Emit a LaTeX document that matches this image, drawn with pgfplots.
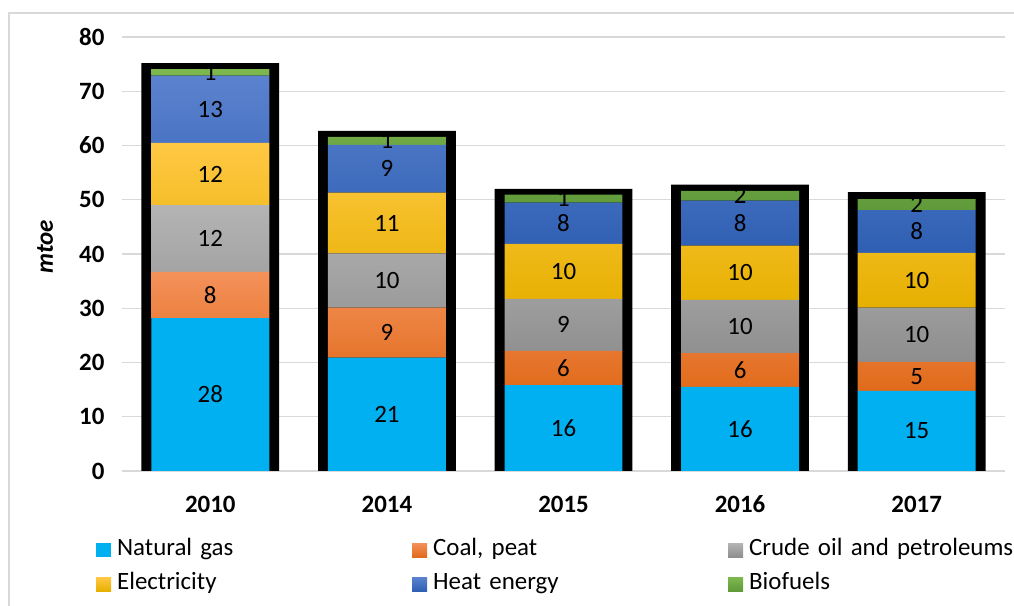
\documentclass[border=0pt]{standalone}
\usepackage{pgfplots}
\usepackage{pgfplotstable}
\pgfplotsset{compat=1.18}
\usepackage{fontspec}
\setmainfont{Carlito}

\definecolor{gasc}{HTML}{00B0F0}
\definecolor{coalT}{HTML}{F4915A}
\definecolor{coalM}{HTML}{ED7D31}
\definecolor{coalB}{HTML}{E06A1A}
\definecolor{crudeT}{HTML}{B4B4B4}
\definecolor{crudeM}{HTML}{A5A5A5}
\definecolor{crudeB}{HTML}{8E8E8E}
\definecolor{elecT}{HTML}{FFC844}
\definecolor{elecM}{HTML}{FFC000}
\definecolor{elecB}{HTML}{E6B000}
\definecolor{heatT}{HTML}{5B82CE}
\definecolor{heatM}{HTML}{4472C4}
\definecolor{heatB}{HTML}{2F5FB3}
\definecolor{bioT}{HTML}{7DB84F}
\definecolor{bioM}{HTML}{70AD47}
\definecolor{bioB}{HTML}{609A3A}
\definecolor{gridc}{HTML}{D9D9D9}

\pgfplotstableread{
x gas coal crude elec heat bio total lgas lcoal lcrude lelec lheat lbio
0 28.2 8.5 12.3 11.5 12.4 1.2 75.2 28 8 12 12 13 1
1 20.9 9.2 10.0 11.2 8.8 1.5 62.7 21 9 10 11 9 1
2 15.85 6.3 9.6 10.1 7.6 1.5 52.0 16 6 9 10 8 1
3 15.5 6.25 9.8 10.0 8.3 1.8 52.8 16 6 10 10 8 2
4 14.75 5.35 10.0 10.1 7.9 2.0 51.4 15 5 10 10 8 2
}\datatable

\pgfplotsset{
  base/.style={
    at={(122bp,135bp)}, anchor=south west,
    scale only axis, width=883bp, height=434bp,
    xmin=-0.5, xmax=4.5, ymin=0, ymax=80,
    enlargelimits=false,
  },
  leg/.style={legend image code/.code={\fill[##1] (0bp,-7bp) rectangle (15bp,7bp);}},
}

\begin{document}
\begin{tikzpicture}
\useasboundingbox (0,0) rectangle (1014bp,606bp);
\draw[draw=gridc, line width=1.2bp] (9bp,-20bp) rectangle (1030bp,593bp);

\begin{axis}[base,
  ybar, bar width=0.78,
  ytick={0,10,...,80},
  xtick={0,1,2,3,4}, xticklabels={2010,2014,2015,2016,2017},
  ymajorgrids, major grid style={draw=gridc, line width=1.3bp},
  axis line style={draw=none},
  tick style={draw=none},
  ticklabel style={font=\fontsize{25}{30}\selectfont\bfseries},
  /pgf/number format/assume math mode=true,
  yticklabel style={xshift=-14bp},
  xticklabel style={yshift=-17bp},
  ylabel={mtoe},
  every axis y label/.style={at={(axis description cs:-0.087,0.517)}, rotate=90, anchor=center, font=\fontsize{25}{30}\selectfont\bfseries\itshape},
]
\addplot[fill=black, draw=none] table[x=x, y=total] {\datatable};
\end{axis}

\begin{axis}[base,
  ybar stacked, bar width=0.668,
  hide axis,
  point meta=explicit symbolic,
  nodes near coords,
  every node near coord/.append style={anchor=center, text=black,
     font=\fontsize{25}{30}\selectfont},
  legend columns=3,
  legend style={at={(axis description cs:-0.0295,-0.2217)}, anchor=west,
    draw=none, fill=none, inner sep=0pt, row sep=11bp,
    font=\fontsize{25}{30}\selectfont,
    nodes={text width=295bp, align=left, inner sep=0pt, text height=17bp, text depth=6bp},
    /tikz/every odd column/.append style={column sep=6bp},
    /tikz/every even column/.append style={column sep=0bp}},
]
\addplot[fill=gasc, draw=none, leg] table[x=x, y=gas, meta=lgas] {\datatable};
\addlegendentry{Natural gas}
\addplot[top color=coalT, middle color=coalM, bottom color=coalB, draw=none, leg] table[x=x, y=coal, meta=lcoal] {\datatable};
\addlegendentry{Coal, peat}
\addplot[top color=crudeT, middle color=crudeM, bottom color=crudeB, draw=none, leg] table[x=x, y=crude, meta=lcrude] {\datatable};
\addlegendentry{Crude oil and petroleums}
\addplot[top color=elecT, middle color=elecM, bottom color=elecB, draw=none, leg] table[x=x, y=elec, meta=lelec] {\datatable};
\addlegendentry{Electricity}
\addplot[top color=heatT, middle color=heatM, bottom color=heatB, draw=none, leg] table[x=x, y=heat, meta=lheat] {\datatable};
\addlegendentry{Heat energy}
\addplot[top color=bioT, middle color=bioM, bottom color=bioB, draw=none, leg] table[x=x, y=bio, meta=lbio] {\datatable};
\addlegendentry{Biofuels}
\end{axis}
\end{tikzpicture}
\end{document}
